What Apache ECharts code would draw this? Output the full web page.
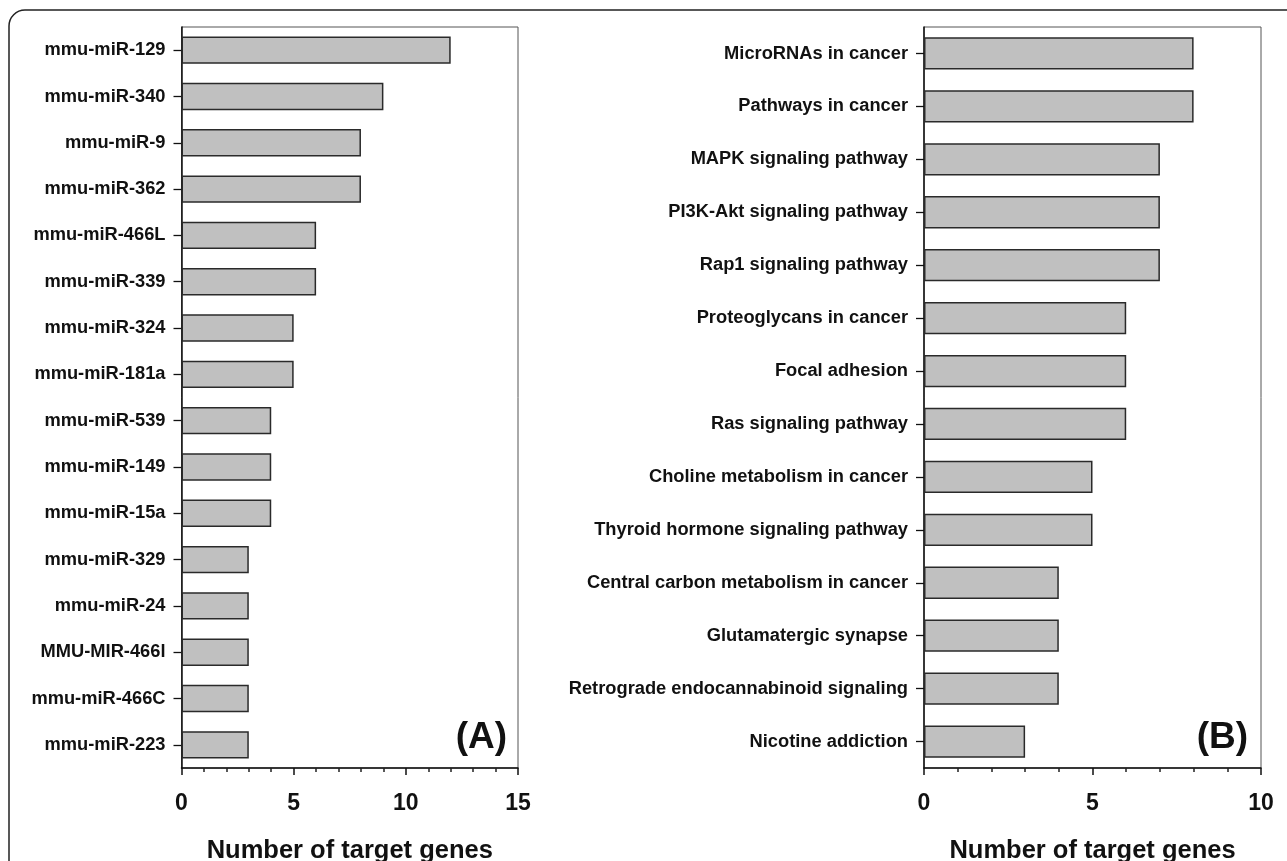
<!DOCTYPE html>
<html>
<head>
<meta charset="utf-8">
<style>
  html, body { margin: 0; padding: 0; background: #fff; }
  #chart { width: 1287px; height: 861px; }
</style>
<script src="https://cdn.jsdelivr.net/npm/echarts@6/dist/echarts.min.js"></script>
</head>
<body>
<div id="chart"></div>
<script>
// Panel A: microRNAs and their number of target genes
const mirnaNames = [
  'mmu-miR-129', 'mmu-miR-340', 'mmu-miR-9', 'mmu-miR-362', 'mmu-miR-466L',
  'mmu-miR-339', 'mmu-miR-324', 'mmu-miR-181a', 'mmu-miR-539', 'mmu-miR-149',
  'mmu-miR-15a', 'mmu-miR-329', 'mmu-miR-24', 'MMU-MIR-466l', 'mmu-miR-466C',
  'mmu-miR-223'
];
const mirnaCounts = [12, 9, 8, 8, 6, 6, 5, 5, 4, 4, 4, 3, 3, 3, 3, 3];

// Panel B: KEGG pathways and their number of target genes
const pathwayNames = [
  'MicroRNAs in cancer', 'Pathways in cancer', 'MAPK signaling pathway',
  'PI3K-Akt signaling pathway', 'Rap1 signaling pathway', 'Proteoglycans in cancer',
  'Focal adhesion', 'Ras signaling pathway', 'Choline metabolism in cancer',
  'Thyroid hormone signaling pathway', 'Central carbon metabolism in cancer',
  'Glutamatergic synapse', 'Retrograde endocannabinoid signaling', 'Nicotine addiction'
];
const pathwayCounts = [8, 8, 7, 7, 7, 6, 6, 6, 5, 5, 4, 4, 4, 3];

const xTicksA = { min: 0, max: 15, interval: 5 };
const xTicksB = { min: 0, max: 10, interval: 5 };
const axisTitle = 'Number of target genes';
const panelLabels = ['(A)', '(B)'];

const FONT = "'Liberation Sans', Arial, sans-serif";
const INK = '#111';

function valueAxis(gridIndex, ticks) {
  return {
    type: 'value', gridIndex,
    min: ticks.min, max: ticks.max, interval: ticks.interval,
    name: axisTitle, nameLocation: 'middle', nameGap: 70,
    nameTextStyle: { fontFamily: FONT, fontWeight: 'bold', fontSize: 25.5, color: INK },
    axisLine: { show: true, lineStyle: { color: INK, width: 1.5 } },
    axisTick: { show: true, inside: false, length: 7, lineStyle: { color: INK, width: 1.5 } },
    minorTick: { show: true, splitNumber: 5, length: 4, lineStyle: { color: '#222', width: 1.5 } },
    axisLabel: { margin: 24, fontFamily: FONT, fontWeight: 'bold', fontSize: 23, color: INK },
    splitLine: { show: false }
  };
}

function categoryAxis(gridIndex, names) {
  return {
    type: 'category', gridIndex, data: names, inverse: true,
    axisLine: { show: true, lineStyle: { color: INK, width: 1.5 } },
    axisTick: { show: true, alignWithLabel: true, length: 8, lineStyle: { color: INK, width: 1.3 } },
    axisLabel: { margin: 16, fontFamily: FONT, fontWeight: 'bold', fontSize: 18.3, color: INK },
    splitLine: { show: false }
  };
}

function barSeries(idx, values, gap) {
  return {
    type: 'bar', xAxisIndex: idx, yAxisIndex: idx, data: values,
    barCategoryGap: gap,
    itemStyle: { color: '#c0c0c0', borderColor: '#2a2a2a', borderWidth: 1.5 },
    silent: true, animation: false
  };
}

const chart = echarts.init(document.getElementById('chart'), null, { renderer: 'canvas' });
chart.setOption({
  backgroundColor: '#fff',
  animation: false,
  grid: [
    { left: 181.5, top: 27, right: 769, bottom: 93, show: true, borderColor: '#555', borderWidth: 1,
      containLabel: false, outerBoundsMode: 'none' },
    { left: 924, top: 27, right: 26, bottom: 93, show: true, borderColor: '#555', borderWidth: 1,
      containLabel: false, outerBoundsMode: 'none' }
  ],
  xAxis: [valueAxis(0, xTicksA), valueAxis(1, xTicksB)],
  yAxis: [categoryAxis(0, mirnaNames), categoryAxis(1, pathwayNames)],
  series: [barSeries(0, mirnaCounts, '41%'), barSeries(1, pathwayCounts, '39%')],
  graphic: [
    {
      type: 'rect', silent: true, z: -1,
      shape: { x: 9, y: 10, width: 1300, height: 880, r: 16 },
      style: { fill: 'none', stroke: '#222', lineWidth: 1.5 }
    },
    {
      type: 'text', right: 1287 - 507, top: 719, silent: true,
      style: { text: panelLabels[0], font: "bold 37px 'Liberation Sans', Arial, sans-serif", fill: INK }
    },
    {
      type: 'text', right: 1287 - 1248, top: 719, silent: true,
      style: { text: panelLabels[1], font: "bold 37px 'Liberation Sans', Arial, sans-serif", fill: INK }
    }
  ]
});
</script>
</body>
</html>
